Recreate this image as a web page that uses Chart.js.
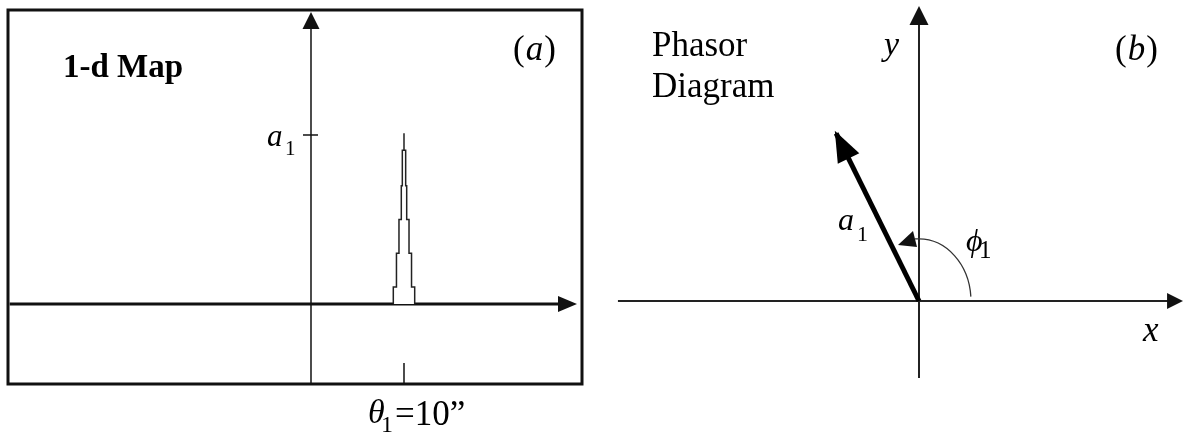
<!DOCTYPE html>
<html><head><meta charset="utf-8">
<script src="https://cdn.jsdelivr.net/npm/chart.js@4/dist/chart.umd.min.js"></script>
<style>
body{margin:0;background:#fff;width:1183px;height:436px;overflow:hidden;position:relative}
canvas{position:absolute;top:0}
#mapChart{left:0}
#phasorChart{left:590px}
</style></head><body>
<canvas id="mapChart" width="590" height="436"></canvas>
<canvas id="phasorChart" width="593" height="436"></canvas>
<script>
// (a) 1-d map: one point source at theta1 = 10", amplitude a1
const theta1=10, a1=1;
const stepTop=[0.10,0.30,0.50,0.70,0.91,1.01];      // top of each step of the peak
const stepHalfWidth=[1.15,0.81,0.54,0.29,0.18,0];   // half width of each step, arcsec
const mapXAxis=[-32.4,28.6], mapYAxis=[-0.473,1.728];
// (b) phasor
const phasorAmp=[1];
const phasorPhase=[116.3]; // degrees
const phasorXAxis=[-1.61,1.412], phasorYAxis=[-0.412,1.578];

const serif='"Liberation Serif","Times New Roman",serif';

// stepped outline of the peak, left side up then right side down
let spike=[];
stepHalfWidth.forEach((w,i)=>{let yb=i?stepTop[i-1]:0;spike.push({x:theta1-w,y:yb},{x:theta1-w,y:stepTop[i]});});
for(let i=stepHalfWidth.length-1;i>=0;i--){let yb=i?stepTop[i-1]:0,w=stepHalfWidth[i];spike.push({x:theta1+w,y:stepTop[i]},{x:theta1+w,y:yb});}

function head(ctx,tx,ty,ang,len,half){
 let bx=tx-len*Math.cos(ang),by=ty-len*Math.sin(ang);
 ctx.beginPath();ctx.moveTo(tx,ty);
 ctx.lineTo(bx+half*Math.sin(ang),by-half*Math.cos(ang));
 ctx.lineTo(bx-half*Math.sin(ang),by+half*Math.cos(ang));
 ctx.closePath();ctx.fill();
}
function t(ctx,s,x,y,font){ctx.font=font;ctx.fillText(s,x,y);return x+ctx.measureText(s).width;}

const mapAxes={id:'mapAxes',
 beforeDatasetsDraw(c){
  let ctx=c.ctx,X=c.scales.x,Y=c.scales.y,x0=X.getPixelForValue(0),y0=Y.getPixelForValue(0);
  ctx.save();ctx.strokeStyle='#111';ctx.fillStyle='#111';
  // y axis, thin
  let yt=Y.getPixelForValue(mapYAxis[1]);
  ctx.lineWidth=1.5;ctx.beginPath();ctx.moveTo(x0,Y.getPixelForValue(mapYAxis[0]));ctx.lineTo(x0,yt+10);ctx.stroke();
  head(ctx,x0,yt,-Math.PI/2,17,8.5);
  // x axis, thick
  let xr=X.getPixelForValue(mapXAxis[1]);
  ctx.lineWidth=3;ctx.beginPath();ctx.moveTo(X.getPixelForValue(mapXAxis[0]),y0);ctx.lineTo(xr-10,y0);ctx.stroke();
  head(ctx,xr,y0,0,19,8);
  ctx.restore();
 },
 afterDraw(c){
  let ctx=c.ctx,X=c.scales.x,Y=c.scales.y,a=c.chartArea,x0=X.getPixelForValue(0);
  ctx.save();ctx.strokeStyle='#111';ctx.fillStyle='#000';
  ctx.lineWidth=3;ctx.strokeRect(a.left,a.top,a.right-a.left,a.bottom-a.top);
  // ticks
  ctx.lineWidth=1.5;
  let ya=Y.getPixelForValue(a1);
  ctx.beginPath();ctx.moveTo(x0-8,ya);ctx.lineTo(x0+7,ya);ctx.stroke();
  let xt=X.getPixelForValue(theta1);
  ctx.beginPath();ctx.moveTo(xt,a.bottom-21);ctx.lineTo(xt,a.bottom);ctx.stroke();
  // labels
  ctx.textBaseline='alphabetic';
  t(ctx,'1-d Map',63,77,'bold 33px '+serif);
  let p=t(ctx,'(',513,60,'35px '+serif);p=t(ctx,'a',p+1,60,'italic 35px '+serif);t(ctx,')',p+1,60,'35px '+serif);
  t(ctx,'a',267,146,'italic 31px '+serif);t(ctx,'1',285,155,'21px '+serif);
  t(ctx,'θ',368,423,'italic 34px '+serif);t(ctx,'1',381,432,'24px '+serif);
  t(ctx,'=10”',395,425,'35px '+serif);
  ctx.restore();
 }};

new Chart(document.getElementById('mapChart'),{
 type:'scatter',
 data:{datasets:[{data:spike,showLine:true,borderColor:'#222',borderWidth:1.5,pointRadius:0,fill:'origin',backgroundColor:'#fff',tension:0}]},
 options:{responsive:false,devicePixelRatio:1,animation:false,
  layout:{padding:{left:8,top:10,right:8,bottom:52}},
  scales:{x:{type:'linear',min:-32.58,max:29.14,display:false},y:{min:-0.4734,max:1.7396,display:false}},
  plugins:{legend:{display:false},tooltip:{enabled:false}}},
 plugins:[mapAxes]
});

// phasor tip in x,y
const phasorPts=[{x:0,y:0}];
phasorAmp.forEach((r,i)=>{let f=phasorPhase[i]*Math.PI/180;phasorPts.push({x:r*Math.cos(f),y:r*Math.sin(f)});});

const phasorAxes={id:'phasorAxes',
 beforeDatasetsDraw(c){
  let ctx=c.ctx,X=c.scales.x,Y=c.scales.y,x0=X.getPixelForValue(0),y0=Y.getPixelForValue(0);
  ctx.save();ctx.strokeStyle='#222';ctx.fillStyle='#111';ctx.lineWidth=2;
  let xr=X.getPixelForValue(phasorXAxis[1]),yt=Y.getPixelForValue(phasorYAxis[1]);
  ctx.beginPath();ctx.moveTo(X.getPixelForValue(phasorXAxis[0]),y0);ctx.lineTo(xr-10,y0);ctx.stroke();
  head(ctx,xr,y0,0,16,8);
  ctx.beginPath();ctx.moveTo(x0,Y.getPixelForValue(phasorYAxis[0]));ctx.lineTo(x0,yt+10);ctx.stroke();
  head(ctx,x0,yt,-Math.PI/2,19,9.5);
  // phase angle arc
  let rx=X.getPixelForValue(0.278)-x0,ry=y0-Y.getPixelForValue(0.332);
  ctx.lineWidth=1.3;ctx.strokeStyle='#333';
  ctx.beginPath();ctx.ellipse(x0,y0,rx,ry,0,-0.07,-Math.PI/2,true);ctx.lineTo(x0-4,y0-ry);ctx.stroke();
  ctx.beginPath();ctx.moveTo(x0-21,y0-ry+6);ctx.lineTo(x0-6,y0-ry-8);ctx.lineTo(x0-2,y0-ry+8);ctx.closePath();ctx.fill();
  ctx.restore();
 },
 afterDraw(c){
  let ctx=c.ctx,X=c.scales.x,Y=c.scales.y;
  let ox=X.getPixelForValue(0),oy=Y.getPixelForValue(0),tp=phasorPts[1];
  let tx=X.getPixelForValue(tp.x),ty=Y.getPixelForValue(tp.y),ang=Math.atan2(ty-oy,tx-ox);
  ctx.save();ctx.fillStyle='#000';
  head(ctx,tx+3*Math.cos(ang),ty+3*Math.sin(ang),ang,31,12);
  ctx.textBaseline='alphabetic';
  t(ctx,'Phasor',62,56,'35px '+serif);
  t(ctx,'Diagram',62,97,'35px '+serif);
  t(ctx,'y',294,55,'italic 34px '+serif);
  let p=t(ctx,'(',525,60,'35px '+serif);p=t(ctx,'b',p+1,60,'italic 35px '+serif);t(ctx,')',p+1,60,'35px '+serif);
  t(ctx,'x',553,341,'italic 35px '+serif);
  t(ctx,'a',248,230,'italic 32px '+serif);t(ctx,'1',267,241,'22px '+serif);
  t(ctx,'ϕ',376,251,'italic 32px '+serif);t(ctx,'1',389,258,'25px '+serif);
  ctx.restore();
 }};

new Chart(document.getElementById('phasorChart'),{
 type:'scatter',
 data:{datasets:[{data:phasorPts,showLine:true,borderColor:'#000',borderWidth:5,borderCapStyle:'butt',pointRadius:0}]},
 options:{responsive:false,devicePixelRatio:1,animation:false,
  layout:{padding:0},
  scales:{x:{type:'linear',min:-1.7594,max:1.4118,display:false},y:{min:-0.7219,max:1.6096,display:false}},
  plugins:{legend:{display:false},tooltip:{enabled:false}}},
 plugins:[phasorAxes]
});
</script>
</body></html>
